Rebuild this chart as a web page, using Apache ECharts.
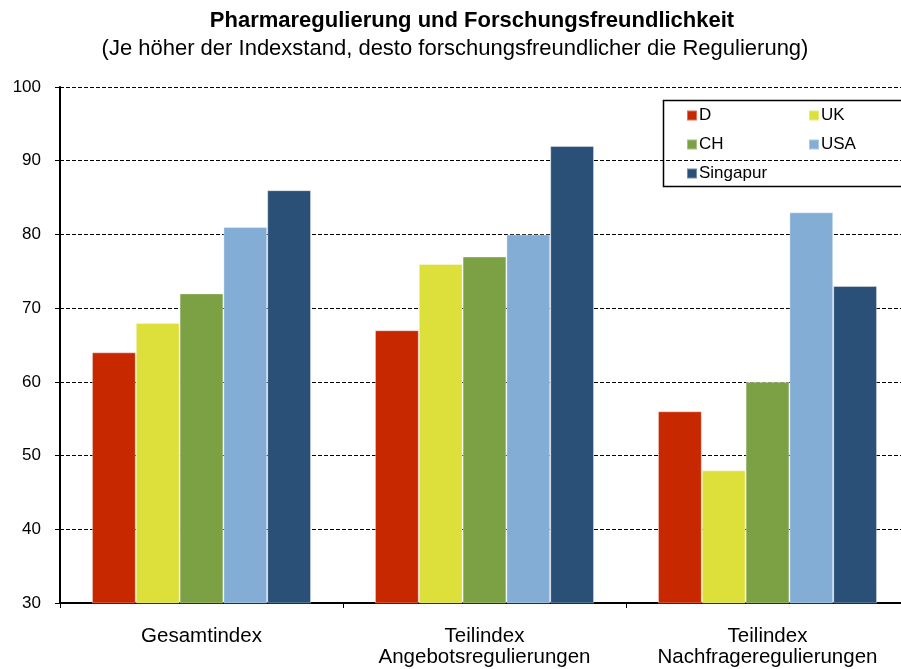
<!DOCTYPE html>
<html>
<head>
<meta charset="utf-8">
<script src="https://cdn.jsdelivr.net/npm/echarts@6/dist/echarts.min.js"></script>
<style>html,body{margin:0;padding:0;background:#fff}#c{width:901px;height:669px}</style>
</head>
<body>
<div id="c"></div>
<script>
const categories = ['Gesamtindex', 'Teilindex\nAngebotsregulierungen', 'Teilindex\nNachfrageregulierungen'];
const seriesNames = ['D', 'UK', 'CH', 'USA', 'Singapur'];
const valuesD = [64, 67, 56];
const valuesUK = [68, 76, 48];
const valuesCH = [72, 77, 60];
const valuesUSA = [81, 80, 83];
const valuesSingapur = [86, 92, 73];
const colors = ['#C82800', '#DDDF3A', '#7CA044', '#84ADD6', '#2A5078'];
const yTicks = [30, 40, 50, 60, 70, 80, 90, 100];

const allValues = [valuesD, valuesUK, valuesCH, valuesUSA, valuesSingapur];
const font = 'Liberation Sans, Arial, sans-serif';

const chart = echarts.init(document.getElementById('c'), null, {renderer: 'canvas'});
chart.setOption({
  animation: false,
  backgroundColor: '#fff',
  title: [{
    text: 'Pharmaregulierung und Forschungsfreundlichkeit',
    left: 467, top: 5, textAlign: 'center',
    textStyle: {fontFamily: font, fontSize: 22, fontWeight: 'bold', color: '#000'}
  }, {
    text: '(Je höher der Indexstand, desto forschungsfreundlicher die Regulierung)',
    left: 450, top: 33, textAlign: 'center',
    textStyle: {fontFamily: font, fontSize: 22, fontWeight: 'normal', color: '#000'}
  }],
  legend: [{
    data: ['D', 'CH', 'Singapur'],
    orient: 'vertical', left: 681, top: 102, itemGap: 12,
    itemWidth: 10, itemHeight: 10, icon: 'rect',
    textStyle: {fontFamily: font, fontSize: 17, color: '#000', padding: [0, 0, 0, -3]}
  }, {
    data: ['UK', 'USA'],
    orient: 'vertical', left: 803, top: 102, itemGap: 12,
    itemWidth: 10, itemHeight: 10, icon: 'rect',
    textStyle: {fontFamily: font, fontSize: 17, color: '#000', padding: [0, 0, 0, -3]}
  }],
  graphic: [{
    type: 'rect', z: 100,
    shape: {x: 663.5, y: 100.5, width: 260, height: 86},
    style: {fill: 'none', stroke: '#000', lineWidth: 1.5}
  }],
  grid: {left: 60, right: -8, top: 87, bottom: 66, containLabel: false, outerBoundsMode: 'none'},
  xAxis: {
    type: 'category', data: categories,
    axisLine: {lineStyle: {color: '#000', width: 2}},
    axisTick: {show: true, length: 5, interval: 0, lineStyle: {color: '#000', width: 1}},
    axisLabel: {fontFamily: font, fontSize: 20.5, color: '#000', margin: 23, lineHeight: 21,
      interval: 0, hideOverlap: false},
    splitLine: {show: false}
  },
  yAxis: {
    type: 'value', min: 30, max: 100, interval: 10,
    axisLine: {show: true, lineStyle: {color: '#000', width: 2}},
    axisTick: {show: true, length: 5, lineStyle: {color: '#000', width: 1}},
    axisLabel: {fontFamily: font, fontSize: 17, color: '#000', margin: 19,
      formatter: v => yTicks.includes(v) ? String(v) : ''},
    splitLine: {show: true, lineStyle: {color: '#000', type: [4, 2], width: 1}}
  },
  series: seriesNames.map((n, i) => ({
    name: n, type: 'bar', data: allValues[i],
    barGap: '0%', barCategoryGap: '22.6%',
    itemStyle: {color: colors[i], borderColor: 'rgba(255,255,255,0.35)', borderWidth: 1}
  }))
});
</script>
</body>
</html>
